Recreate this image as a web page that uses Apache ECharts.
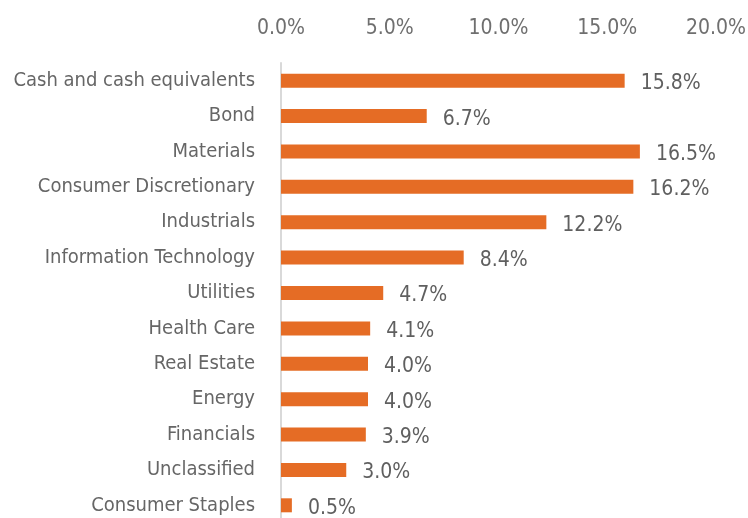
<!DOCTYPE html>
<html>
<head>
<meta charset="utf-8">
<script src="https://cdn.jsdelivr.net/npm/echarts@6/dist/echarts.min.js"></script>
<style>
html, body { margin: 0; padding: 0; background: #fff; }
#chart { width: 748px; height: 518px; }
</style>
</head>
<body>
<div id="chart"></div>
<script>
const categories = ['Cash and cash equivalents', 'Bond', 'Materials', 'Consumer Discretionary', 'Industrials',
  'Information Technology', 'Utilities', 'Health Care', 'Real Estate', 'Energy', 'Financials',
  'Unclassified', 'Consumer Staples'];
const values = [15.8, 6.7, 16.5, 16.2, 12.2, 8.4, 4.7, 4.1, 4.0, 4.0, 3.9, 3.0, 0.5];
const xTicks = [0, 5, 10, 15, 20];

const font = '"DejaVu Sans Condensed", "Roboto", sans-serif';

const chart = echarts.init(document.getElementById('chart'));
chart.setOption({
  animation: false,
  grid: { left: 281, right: 32, top: 63, height: 460, outerBoundsMode: 'none', containLabel: false },
  xAxis: {
    type: 'value',
    position: 'top',
    min: xTicks[0],
    max: xTicks[xTicks.length - 1],
    interval: 5,
    splitLine: { show: false },
    axisLine: { show: false },
    axisTick: { show: false },
    axisLabel: {
      formatter: v => v.toFixed(1) + '%',
      color: '#6f6f6f',
      fontFamily: font,
      fontSize: 21,
      margin: 24
    }
  },
  yAxis: {
    type: 'category',
    inverse: true,
    data: categories,
    axisLine: { show: true, lineStyle: { color: '#d9d9d9', width: 2 } },
    axisTick: { show: false },
    axisLabel: {
      color: '#666666',
      fontFamily: font,
      fontSize: 20,
      margin: 26
    }
  },
  series: [{
    type: 'bar',
    data: values,
    barWidth: 14,
    itemStyle: { color: '#e56c25' },
    label: {
      show: true,
      position: 'right',
      distance: 16,
      offset: [0, 3],
      formatter: p => p.value.toFixed(1) + '%',
      color: '#5f5f5f',
      fontFamily: font,
      fontSize: 21
    }
  }]
});
</script>
</body>
</html>
